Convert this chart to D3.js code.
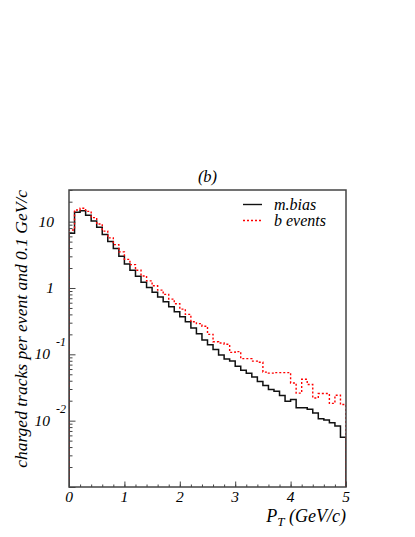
<!DOCTYPE html>
<html>
<head>
<meta charset="utf-8">
<script src="https://cdn.jsdelivr.net/npm/d3@7"></script>
<style>
body { margin: 0; background: #fff; }
svg text { font-family: "Liberation Serif", "DejaVu Serif", serif; font-style: italic; fill: #000; }
</style>
</head>
<body>
<div id="chart"></div>
<script>
// lower bin edges (GeV/c), bin width 0.1
var ptLow = [0.0, 0.1, 0.2, 0.3, 0.4, 0.5, 0.6, 0.7, 0.8, 0.9,
  1.0, 1.1, 1.2, 1.3, 1.4, 1.5, 1.6, 1.7, 1.8, 1.9,
  2.0, 2.1, 2.2, 2.3, 2.4, 2.5, 2.6, 2.7, 2.8, 2.9,
  3.0, 3.1, 3.2, 3.3, 3.4, 3.5, 3.6, 3.7, 3.8, 3.9,
  4.0, 4.1, 4.2, 4.3, 4.4, 4.5, 4.6, 4.7, 4.8, 4.9];
var binWidth = 0.1;

var minBias = [6.7, 13.8, 14.6, 12.5, 10.2, 8.2, 6.4, 5.0, 3.95, 3.0,
  2.3, 1.85, 1.5, 1.22, 1.02, 0.86, 0.73, 0.62, 0.52, 0.44,
  0.37, 0.31, 0.25, 0.205, 0.165, 0.14, 0.118, 0.098, 0.085, 0.079,
  0.066, 0.0575, 0.052, 0.0457, 0.039, 0.034, 0.0295, 0.0278, 0.024, 0.0196,
  0.0209, 0.0156, 0.0156, 0.0148, 0.0131, 0.0107, 0.0102, 0.0093, 0.0083, 0.0056];

var bEvents = [7.5, 15.0, 15.9, 14.3, 11.5, 9.2, 7.2, 5.7, 4.5, 3.5,
  2.7, 2.25, 1.85, 1.52, 1.28, 1.08, 0.93, 0.8, 0.68, 0.58,
  0.48, 0.40, 0.31, 0.29, 0.265, 0.2, 0.155, 0.148, 0.142, 0.107,
  0.11, 0.086, 0.086, 0.079, 0.076, 0.054, 0.052, 0.053, 0.053, 0.053,
  0.037, 0.026, 0.042, 0.035, 0.022, 0.0257, 0.0257, 0.0182, 0.0242, 0.0175];

var xTicks = [0, 1, 2, 3, 4, 5];
var yTicks = [10, 1, 0.1, 0.01];
var yTickBase = ["10", "1", "10", "10"];
var yTickExp = ["", "", "-1", "-2"];

var W = 415, H = 537;
var pLeft = 69, pRight = 346, pTop = 190, pBottom = 487;

var svg = d3.select("#chart").append("svg")
  .attr("width", W)
  .attr("height", H);

var x = d3.scaleLinear().domain([0, 5]).range([pLeft, pRight]);
var y = d3.scaleLog().domain([0.001, 30]).range([pBottom, pTop]);

svg.append("defs").append("clipPath")
  .attr("id", "clip")
  .append("rect")
  .attr("x", pLeft).attr("y", pTop)
  .attr("width", pRight - pLeft).attr("height", pBottom - pTop);

// histogram outline
function stepPath(vals) {
  var p = "M" + x(0) + "," + y(0.001);
  vals.forEach(function(v, i) {
    p += "L" + x(ptLow[i]) + "," + y(v) + "L" + x(ptLow[i] + binWidth) + "," + y(v);
  });
  p += "L" + x(5) + "," + y(0.001);
  return p;
}

var plot = svg.append("g").attr("clip-path", "url(#clip)");

plot.append("path")
  .attr("d", stepPath(minBias))
  .attr("fill", "none")
  .attr("stroke", "#111")
  .attr("stroke-width", 1.5);

plot.append("path")
  .attr("d", stepPath(bEvents))
  .attr("fill", "none")
  .attr("stroke", "#ff0000")
  .attr("stroke-width", 1.4)
  .attr("stroke-dasharray", "2,2");

// frame
svg.append("rect")
  .attr("x", pLeft).attr("y", pTop)
  .attr("width", pRight - pLeft).attr("height", pBottom - pTop)
  .attr("fill", "none")
  .attr("stroke", "#444")
  .attr("stroke-width", 1.5);

// y ticks (log: 1..9 per decade)
var yMinor = [];
[0.001, 0.01, 0.1, 1, 10].forEach(function(d) {
  for (var k = 2; k <= 9; k++) if (k * d <= 30) yMinor.push(k * d);
});
var yMajor = [0.001, 0.01, 0.1, 1, 10];

svg.append("g")
  .attr("transform", "translate(" + pLeft + ",0)")
  .call(d3.axisRight(y).tickValues(yMinor).tickSize(3.5).tickFormat(""))
  .call(function(g) { g.select(".domain").remove(); g.selectAll("line").attr("stroke", "#444"); });

svg.append("g")
  .attr("transform", "translate(" + pLeft + ",0)")
  .call(d3.axisRight(y).tickValues(yMajor).tickSize(6.5).tickFormat(""))
  .call(function(g) { g.select(".domain").remove(); g.selectAll("line").attr("stroke", "#444"); });

// x ticks
var xMinor = d3.range(0, 5.001, 0.2);
svg.append("g")
  .attr("transform", "translate(0," + pBottom + ")")
  .call(d3.axisTop(x).tickValues(xMinor).tickSize(2.5).tickFormat(""))
  .call(function(g) { g.select(".domain").remove(); g.selectAll("line").attr("stroke", "#444"); });

svg.append("g")
  .attr("transform", "translate(0," + pBottom + ")")
  .call(d3.axisTop(x).tickValues(xTicks).tickSize(5.5).tickFormat(""))
  .call(function(g) { g.select(".domain").remove(); g.selectAll("line").attr("stroke", "#444"); });

// x tick labels
svg.selectAll(".xlab")
  .data(xTicks)
  .enter().append("text")
  .attr("x", function(d) { return x(d); })
  .attr("y", 502)
  .attr("text-anchor", "middle")
  .style("font-size", "15.5px")
  .text(function(d) { return d; });

// y tick labels
yTicks.forEach(function(v, i) {
  var t = svg.append("text")
    .attr("y", y(v) + 5)
    .style("font-size", "15.5px");
  if (yTickExp[i] === "") {
    t.attr("x", 54).attr("text-anchor", "end").text(yTickBase[i]);
  } else {
    t.attr("x", 50).attr("text-anchor", "end").text(yTickBase[i]);
    svg.append("text")
      .attr("x", 56)
      .attr("y", y(v) - 8)
      .style("font-size", "12px")
      .text(yTickExp[i]);
  }
});

// axis titles
var xt = svg.append("text")
  .attr("x", pRight)
  .attr("y", 522)
  .attr("text-anchor", "end")
  .style("font-size", "18px");
xt.append("tspan").text("P");
xt.append("tspan").attr("dy", 4).style("font-size", "13px").text("T");
xt.append("tspan").attr("dy", -4).text(" (GeV/c)");

svg.append("text")
  .attr("transform", "translate(27," + pTop + ") rotate(-90)")
  .attr("text-anchor", "end")
  .style("font-size", "17.5px")
  .text("charged tracks per event and 0.1 GeV/c");

// title
svg.append("text")
  .attr("x", (pLeft + pRight) / 2)
  .attr("y", 182)
  .attr("text-anchor", "middle")
  .style("font-size", "16.5px")
  .text("(b)");

// legend
var legend = [
  { label: "m.bias", color: "#111", dash: null, yy: 204.5 },
  { label: "b events", color: "#ff0000", dash: "2,2", yy: 220.5 }
];
legend.forEach(function(l) {
  svg.append("line")
    .attr("x1", 243).attr("x2", 262)
    .attr("y1", l.yy).attr("y2", l.yy)
    .attr("stroke", l.color)
    .attr("stroke-width", 1.4)
    .attr("stroke-dasharray", l.dash);
  svg.append("text")
    .attr("x", 274)
    .attr("y", l.yy + 5)
    .style("font-size", "16px")
    .text(l.label);
});
</script>
</body>
</html>
